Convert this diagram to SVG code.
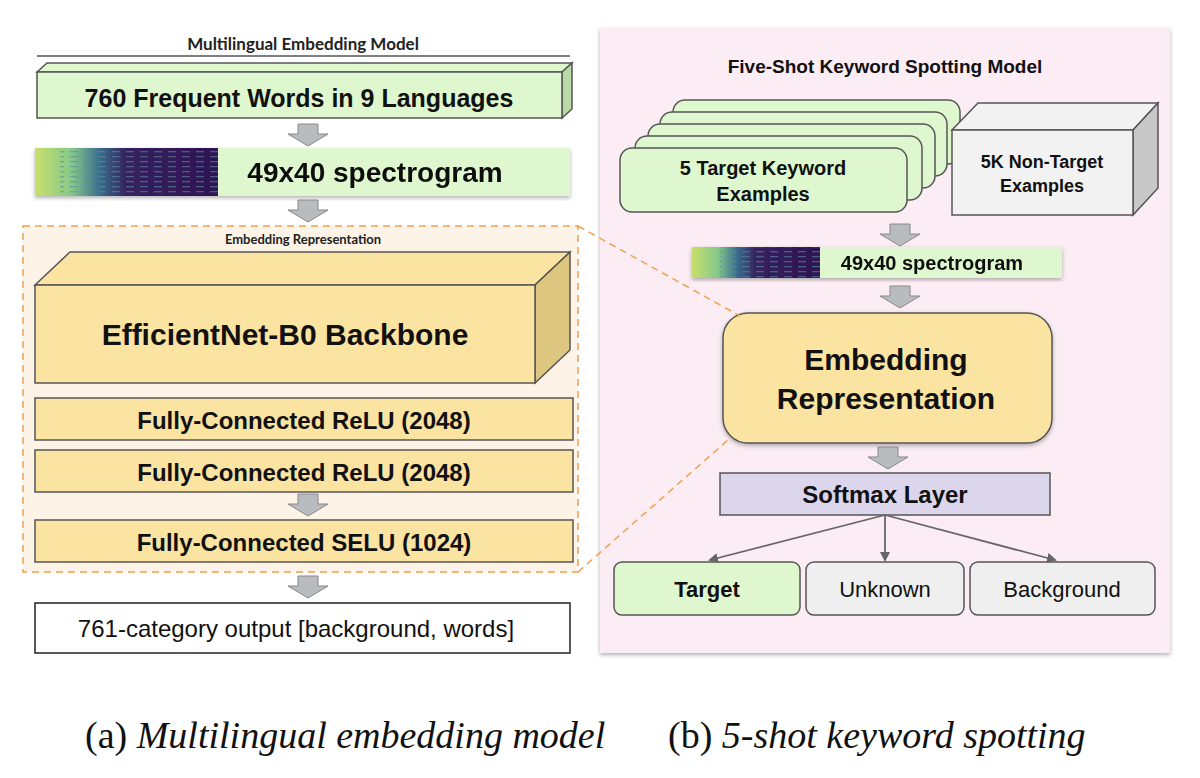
<svg xmlns="http://www.w3.org/2000/svg" width="1200" height="778" viewBox="0 0 1200 778">
<defs>
<style>
.b{font-family:"Liberation Sans",Arial,sans-serif;font-weight:bold;fill:#111;text-anchor:middle}
.r{font-family:"Liberation Sans",Arial,sans-serif;fill:#111;text-anchor:middle}
.l{font-family:Lato,"Open Sans",sans-serif;fill:#222;text-anchor:middle}
.cap{font-family:"Liberation Serif",serif;font-size:38px;fill:#111}
.g{fill:#dff7cf;stroke:#555;stroke-width:1.5}
.y{fill:#fbe3a2;stroke:#555;stroke-width:1.5}
.ys{fill:#ddc67f;stroke:#555;stroke-width:1.5}
.gs{fill:#b9d9a7;stroke:#555;stroke-width:1.5}
.conn{stroke:#666;stroke-width:1.8;fill:none}
</style>
<linearGradient id="spec" x1="0" x2="1" y1="0" y2="0">
<stop offset="0" stop-color="#c9df6b"/><stop offset="0.2" stop-color="#86c98a"/><stop offset="0.35" stop-color="#3a6f8c"/><stop offset="0.5" stop-color="#35225f"/><stop offset="1" stop-color="#2e1353"/>
</linearGradient>
<pattern id="lines" width="14" height="5" patternUnits="userSpaceOnUse">
<rect x="0" y="1" width="8" height="1.3" fill="#5d8aa0" opacity="0.6"/>
</pattern>
<path id="arr" d="M-10,0 H10 V10 H20 L0,22 L-20,10 H-10 Z" fill="#b8bcbf" stroke="#888" stroke-width="1"/>
<marker id="ah" markerWidth="10" markerHeight="10" refX="8" refY="5" orient="auto" markerUnits="userSpaceOnUse"><path d="M0,0 L10,5 L0,10 Z" fill="#666"/></marker>
<filter id="sh" x="-5%" y="-5%" width="110%" height="115%"><feDropShadow dx="0" dy="2" stdDeviation="2" flood-opacity="0.3"/></filter>
</defs>
<rect width="1200" height="778" fill="#fff"/>

<!-- Left panel -->
<g id="left-title">
<text x="303" y="50" class="l" font-size="17" font-weight="bold">Multilingual Embedding Model</text>
<line x1="37" y1="56" x2="570" y2="56" stroke="#555" stroke-width="1.5"/>
</g>
<g id="words">
<polygon points="37,72 47,63 572,63 562,72" class="g"/>
<polygon points="562,72 572,63 572,109 562,118" class="gs"/>
<rect x="37" y="72" width="525" height="46" class="g"/>
<text x="299" y="107" class="b" font-size="25">760 Frequent Words in 9 Languages</text>
</g>
<g id="spec-left" filter="url(#sh)">
<rect x="35" y="148" width="535" height="48" fill="#dff7cf"/>
<rect x="35" y="148" width="183" height="48" fill="url(#spec)"/>
<rect x="60" y="148" width="158" height="48" fill="url(#lines)"/>
<text x="375" y="182" class="b" font-size="28">49x40 spectrogram</text>
</g>
<g id="embed-box">
<rect x="23" y="226" width="555" height="346" fill="#fdf3e6" stroke="#f0a050" stroke-width="1.5" stroke-dasharray="7,5"/>
<text x="303" y="244" class="l" font-size="13" font-weight="bold">Embedding Representation</text>
</g>
<g id="backbone">
<polygon points="35,285 70,252 570,252 535,285" class="y"/>
<polygon points="535,285 570,252 570,350 535,383" class="ys"/>
<rect x="35" y="285" width="500" height="98" class="y"/>
<text x="285" y="345" class="b" font-size="30">EfficientNet-B0 Backbone</text>
</g>
<g id="fc1"><rect x="35" y="398" width="538" height="42" class="y"/><text x="304" y="429" class="b" font-size="24">Fully-Connected ReLU (2048)</text></g>
<g id="fc2"><rect x="35" y="450" width="538" height="42" class="y"/><text x="304" y="481" class="b" font-size="24">Fully-Connected ReLU (2048)</text></g>
<g id="fc3"><rect x="35" y="520" width="538" height="42" class="y"/><text x="304" y="551" class="b" font-size="24">Fully-Connected SELU (1024)</text></g>
<g id="output"><rect x="35" y="603" width="535" height="50" fill="#fff" stroke="#222" stroke-width="1.5"/><text x="296" y="637" class="r" font-size="24">761-category output [background, words]</text></g>

<!-- Right panel -->
<g id="right-panel">
<rect x="600" y="28" width="570" height="625" fill="#fbedf3" filter="url(#sh)"/>
<text x="885" y="73" class="b" font-size="19">Five-Shot Keyword Spotting Model</text>
</g>
<g id="targets">
<rect x="673" y="100" width="287" height="64" rx="12" class="g"/>
<rect x="660" y="112" width="287" height="64" rx="12" class="g"/>
<rect x="648" y="124" width="287" height="64" rx="12" class="g"/>
<rect x="635" y="136" width="287" height="64" rx="12" class="g"/>
<rect x="620" y="148" width="287" height="64" rx="12" class="g"/>
<text x="763" y="175" class="b" font-size="20">5 Target Keyword</text>
<text x="763" y="201" class="b" font-size="20">Examples</text>
</g>
<g id="nontarget">
<polygon points="952,130 978,103 1158,103 1133,130" fill="#f2f2f2" stroke="#555" stroke-width="1.5"/>
<polygon points="1133,130 1158,103 1158,188 1133,215" fill="#c8c8c8" stroke="#555" stroke-width="1.5"/>
<rect x="952" y="130" width="181" height="85" fill="#f2f2f2" stroke="#555" stroke-width="1.5"/>
<text x="1042" y="168" class="b" font-size="18">5K Non-Target</text>
<text x="1042" y="192" class="b" font-size="18">Examples</text>
</g>
<g id="spec-right" filter="url(#sh)">
<rect x="692" y="247" width="370" height="31" fill="#dff7cf"/>
<rect x="692" y="247" width="128" height="31" fill="url(#spec)"/>
<rect x="720" y="247" width="100" height="31" fill="url(#lines)"/>
<text x="932" y="270" class="b" font-size="20">49x40 spectrogram</text>
</g>
<g id="embedding">
<rect x="723" y="313" width="329" height="130" rx="25" fill="#fbe3a2" stroke="#555" stroke-width="1.5" filter="url(#sh)"/>
<text x="886" y="370" class="b" font-size="30">Embedding</text>
<text x="886" y="409" class="b" font-size="30">Representation</text>
</g>
<g id="softmax"><rect x="720" y="473" width="330" height="42" fill="#dcd6ec" stroke="#555" stroke-width="1.5"/><text x="885" y="503" class="b" font-size="24">Softmax Layer</text></g>
<g id="target"><rect x="614" y="562" width="186" height="53" rx="8" class="g"/><text x="707" y="597" class="b" font-size="22">Target</text></g>
<g id="unknown"><rect x="806" y="562" width="158" height="53" rx="8" fill="#efefef" stroke="#555" stroke-width="1.5"/><text x="885" y="597" class="r" font-size="22">Unknown</text></g>
<g id="background"><rect x="970" y="562" width="185" height="53" rx="8" fill="#efefef" stroke="#555" stroke-width="1.5"/><text x="1062" y="597" class="r" font-size="22">Background</text></g>

<g id="connectors">
<use href="#arr" x="308" y="124"/>
<use href="#arr" x="308" y="200"/>
<use href="#arr" x="308" y="494"/>
<use href="#arr" x="308" y="576"/>
<use href="#arr" x="900" y="224"/>
<use href="#arr" x="900" y="286"/>
<use href="#arr" x="888" y="447"/>
<line x1="885" y1="515" x2="710" y2="560" class="conn" marker-end="url(#ah)"/>
<line x1="885" y1="515" x2="885" y2="560" class="conn" marker-end="url(#ah)"/>
<line x1="885" y1="515" x2="1055" y2="560" class="conn" marker-end="url(#ah)"/>
<line x1="578" y1="226" x2="740" y2="316" stroke="#f0a050" stroke-width="1.5" stroke-dasharray="7,5"/>
<line x1="578" y1="572" x2="728" y2="440" stroke="#f0a050" stroke-width="1.5" stroke-dasharray="7,5"/>
</g>

<text x="85" y="748" class="cap">(a) <tspan font-style="italic">Multilingual embedding model</tspan></text>
<text x="668" y="748" class="cap">(b) <tspan font-style="italic">5-shot keyword spotting</tspan></text>
</svg>
